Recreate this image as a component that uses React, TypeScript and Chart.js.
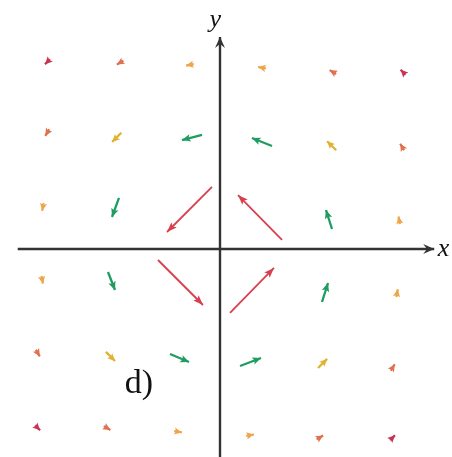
import React, { useEffect, useRef } from "react";
import { Chart, registerables } from "chart.js";

Chart.register(...registerables);

// Rotational vector field sampled on a 6x6 grid.
// Arrows are grouped into magnitude bands; each band keeps tails (x, y) and components (u, v).
const innerX = [0.886, -0.114, -0.886, 0.143];
const innerY = [0.129, 0.886, -0.157, -0.914];
const innerU = [-0.629, -0.643, 0.643, 0.628];
const innerV = [0.642, -0.643, -0.643, 0.643];

const midX = [-0.257, 0.743, -1.443, -1.6, 1.6, 1.457, -0.714, 0.286];
const midY = [1.629, 1.471, 0.729, -0.329, 0.286, -0.757, -1.5, -1.671];
const midU = [-0.286, -0.286, -0.1, 0.1, -0.086, 0.086, 0.271, 0.3];
const midV = [-0.072, 0.115, -0.272, -0.257, 0.271, 0.271, -0.114, 0.114];

const diagX = [-1.41, 1.66, -1.63, 1.4];
const diagY = [1.66, 1.41, -1.47, -1.7];
const diagU = [-0.13, -0.13, 0.13, 0.13];
const diagV = [-0.13, 0.13, -0.13, 0.13];

const edgeX = [-2.52, -2.55, 2.57, 2.52, -0.375, 0.655, -0.655, 0.375];
const edgeY = [0.655, -0.385, 0.355, -0.685, 2.64, 2.58, -2.6, -2.67];
const edgeU = [-0.02, 0.02, -0.02, 0.02, -0.11, -0.11, 0.11, 0.11];
const edgeV = [-0.11, -0.11, 0.11, 0.11, -0.02, 0.02, -0.02, 0.02];

const outerX = [-2.44, 2.63, -1.38, 1.66, -2.63, 2.44, -1.66, 1.38];
const outerY = [1.71, 1.41, 2.69, 2.5, -1.44, -1.74, -2.53, -2.72];
const outerU = [-0.056, -0.056, -0.094, -0.094, 0.056, 0.056, 0.094, 0.094];
const outerV = [-0.094, 0.094, -0.056, 0.056, -0.094, 0.094, -0.056, 0.056];

const cornerX = [-2.43, 2.65, -2.64, 2.43];
const cornerY = [2.71, 2.49, -2.52, -2.73];
const cornerU = [-0.07, -0.07, 0.07, 0.07];
const cornerV = [-0.07, 0.07, -0.07, 0.07];

// Coordinate axes extents
const axisXRange = [-2.89, 3.06];
const axisYRange = [-3.1, 3.03];

const bands = [
  { xs: innerX, ys: innerY, us: innerU, vs: innerV, color: "#d9404f", width: 1.8, head: [10, 3.8] },
  { xs: midX, ys: midY, us: midU, vs: midV, color: "#1f9c62", width: 2.3, head: [8.5, 3.8] },
  { xs: diagX, ys: diagY, us: diagU, vs: diagV, color: "#dfb330", width: 2.3, head: [7.5, 3.6] },
  { xs: edgeX, ys: edgeY, us: edgeU, vs: edgeV, color: "#eea54a", width: 2.2, head: [7.5, 3.6] },
  { xs: outerX, ys: outerY, us: outerU, vs: outerV, color: "#e0704f", width: 2.2, head: [7.5, 3.6] },
  { xs: cornerX, ys: cornerY, us: cornerU, vs: cornerV, color: "#c83352", width: 2.2, head: [7.5, 3.6] },
];

const arrowHeads = {
  id: "arrowHeads",
  afterDatasetsDraw(chart: any) {
    const ctx = chart.ctx;
    chart.data.datasets.forEach((ds: any, i: number) => {
      if (!ds.head) return;
      const pts = chart.getDatasetMeta(i).data;
      const p0 = pts[0];
      const p1 = pts[pts.length - 1];
      const ang = Math.atan2(p1.y - p0.y, p1.x - p0.x);
      const [len, half, notch] = ds.head;
      ctx.save();
      ctx.translate(p1.x, p1.y);
      ctx.rotate(ang);
      ctx.fillStyle = ds.borderColor;
      ctx.beginPath();
      ctx.moveTo(0, 0);
      ctx.lineTo(-len, -half);
      ctx.lineTo(-len * (notch || 0.8), 0);
      ctx.lineTo(-len, half);
      ctx.closePath();
      ctx.fill();
      ctx.restore();
    });
  },
};

const axisText = {
  id: "axisText",
  afterDraw(chart: any) {
    const ctx = chart.ctx;
    const sx = chart.scales.x;
    const sy = chart.scales.y;
    ctx.save();
    ctx.fillStyle = "#111";
    ctx.textBaseline = "alphabetic";
    ctx.textAlign = "left";
    ctx.font = 'italic 26px "Liberation Serif", serif';
    ctx.fillText("x", sx.getPixelForValue(3.11), sy.getPixelForValue(-0.1));
    ctx.fillText("y", sx.getPixelForValue(-0.15), sy.getPixelForValue(3.17));
    ctx.font = '34px "Liberation Serif", serif';
    ctx.fillText("d)", sx.getPixelForValue(-1.36), sy.getPixelForValue(-2.05));
    ctx.restore();
  },
};

export default function App() {
  const ref = useRef<HTMLCanvasElement | null>(null);

  useEffect(() => {
    if (!ref.current) return;
    const datasets: any[] = [];
    datasets.push({
      data: [{ x: axisXRange[0], y: 0 }, { x: axisXRange[1], y: 0 }],
      borderColor: "#333333",
      borderWidth: 2.4,
      head: [11, 5, 0.65],
    });
    datasets.push({
      data: [{ x: 0, y: axisYRange[0] }, { x: 0, y: axisYRange[1] }],
      borderColor: "#333333",
      borderWidth: 2.4,
      head: [11, 5, 0.65],
    });
    bands.forEach((b) => {
      b.xs.forEach((x, k) => {
        datasets.push({
          data: [
            { x, y: b.ys[k] },
            { x: x + b.us[k], y: b.ys[k] + b.vs[k] },
          ],
          borderColor: b.color,
          borderWidth: b.width,
          head: b.head,
        });
      });
    });
    datasets.forEach((d) => {
      d.showLine = true;
      d.pointRadius = 0;
      d.pointHoverRadius = 0;
      d.borderCapStyle = "butt";
      d.clip = false;
      d.fill = false;
    });

    const chart = new Chart(ref.current, {
      type: "scatter",
      data: { datasets },
      options: {
        animation: false,
        responsive: true,
        maintainAspectRatio: false,
        layout: { padding: 0 },
        events: [],
        plugins: { legend: { display: false }, tooltip: { enabled: false } },
        scales: {
          x: { type: "linear", min: -220 / 70, max: 232 / 70, display: false },
          y: { type: "linear", min: -208 / 70, max: 249 / 70, display: false },
        },
      },
      plugins: [arrowHeads, axisText],
    });
    return () => chart.destroy();
  }, []);

  return (
    <div style={{ position: "fixed", left: 0, top: 0, width: 452, height: 457, background: "#fff" }}>
      <canvas ref={ref} />
    </div>
  );
}
